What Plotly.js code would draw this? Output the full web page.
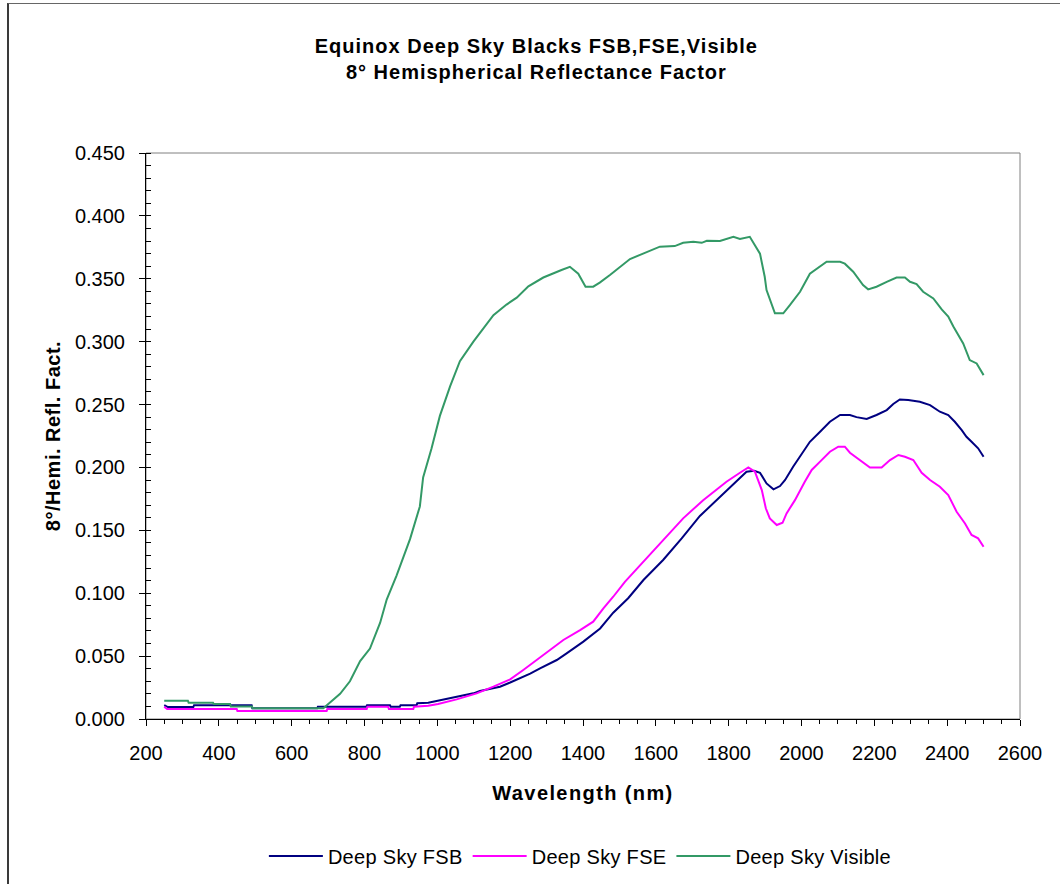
<!DOCTYPE html>
<html>
<head>
<meta charset="utf-8">
<script src="https://cdn.plot.ly/plotly-3.0.1.min.js"></script>
<style>
  html, body { margin: 0; padding: 0; background: #fff; overflow: hidden; }
  #wrap { position: relative; width: 1060px; height: 884px; }
  #chart { position: absolute; left: 0; top: 0; width: 1060px; height: 884px; }
  #frame { position: absolute; left: 7px; top: 3px; width: 1100px; height: 1000px;
           border-left: 2px solid #3a3a3a; border-top: 1px solid #666; pointer-events: none; }
  .gtitle { letter-spacing: 1px; }
  .xtitle { letter-spacing: 1.4px; }
  .ytitle { letter-spacing: 0.5px; }
  .legendtext { letter-spacing: 0.3px; }
</style>
</head>
<body>
<div id="wrap">
  <div id="chart"></div>
  <div id="frame"></div>
</div>
<script>
// ---- data (wavelength in nm, 8°/hemispherical reflectance factor) ----
const seriesNames = ["Deep Sky FSB", "Deep Sky FSE", "Deep Sky Visible"];

const wlFSB = [250,260,330,332,490,492,670,672,805,807,870,872,897,899,943,945,975,1002,1053,1099,1117,1154,1172,1200,1227,1255,1282,1328,1355,1401,1447,1483,1524,1566,1620,1671,1721,1758,1799,1826,1849,1870,1886,1904,1923,1941,1955,1977,2009,2023,2051,2078,2106,2133,2151,2179,2206,2234,2252,2270,2293,2325,2353,2380,2403,2421,2440,2453,2467,2485,2500];
const valFSB = [0.011,0.0095,0.0095,0.011,0.011,0.0085,0.0085,0.0098,0.0098,0.011,0.011,0.0098,0.0098,0.011,0.011,0.0125,0.013,0.0146,0.0177,0.0204,0.0222,0.0244,0.0257,0.029,0.0323,0.036,0.0403,0.0469,0.0522,0.0615,0.072,0.0845,0.096,0.1105,0.1264,0.1436,0.1614,0.1715,0.1826,0.190,0.1966,0.1974,0.1958,0.1873,0.1826,0.1852,0.190,0.2006,0.2138,0.2204,0.2284,0.2363,0.2417,0.2417,0.240,0.2385,0.2417,0.2456,0.2504,0.254,0.2536,0.2522,0.2496,0.2443,0.2417,0.2363,0.2297,0.2244,0.2204,0.2152,0.2085];

const wlFSE = [250,258,449,451,696,698,806,808,865,867,934,936,975,1002,1053,1108,1154,1200,1236,1291,1346,1392,1428,1456,1483,1515,1566,1620,1675,1730,1794,1831,1854,1872,1891,1902,1913,1932,1948,1959,1982,2009,2028,2051,2078,2101,2119,2133,2160,2188,2220,2243,2266,2284,2307,2330,2353,2380,2403,2426,2449,2467,2485,2500];
const valFSE = [0.0098,0.008,0.008,0.0064,0.0064,0.008,0.008,0.0098,0.0098,0.008,0.008,0.0098,0.0105,0.012,0.0156,0.0204,0.0257,0.0315,0.039,0.0509,0.0628,0.0707,0.0774,0.088,0.0972,0.1091,0.125,0.1423,0.1595,0.174,0.1886,0.1958,0.200,0.1966,0.182,0.1675,0.1595,0.1542,0.156,0.1635,0.174,0.1886,0.198,0.2046,0.2125,0.2165,0.2165,0.2117,0.2059,0.200,0.200,0.2059,0.2099,0.2085,0.2059,0.1958,0.190,0.1847,0.178,0.1648,0.1555,0.1463,0.1436,0.137];

const wlVis = [250,315,317,384,386,431,433,491,493,687,733,760,788,815,843,861,888,925,952,961,984,1007,1035,1062,1099,1122,1154,1190,1218,1250,1291,1341,1364,1387,1407,1428,1446,1474,1501,1529,1565,1611,1652,1675,1703,1726,1740,1776,1813,1831,1858,1886,1899,1904,1927,1950,1968,1996,2023,2051,2069,2106,2119,2142,2169,2183,2206,2234,2261,2284,2298,2316,2334,2362,2385,2403,2417,2444,2462,2481,2500];
const valVis = [0.0145,0.0145,0.013,0.013,0.012,0.012,0.010,0.010,0.0085,0.0085,0.020,0.030,0.046,0.056,0.0766,0.095,0.114,0.143,0.169,0.192,0.215,0.241,0.2645,0.2845,0.300,0.309,0.321,0.3295,0.335,0.344,0.351,0.357,0.3595,0.354,0.3437,0.3437,0.347,0.353,0.3595,0.3657,0.370,0.3755,0.376,0.3786,0.3795,0.3786,0.3802,0.380,0.3834,0.3816,0.3834,0.370,0.3516,0.341,0.3225,0.3225,0.329,0.3397,0.354,0.3595,0.3635,0.3635,0.362,0.3556,0.345,0.3416,0.3437,0.3476,0.351,0.351,0.3476,0.3458,0.3397,0.3344,0.3256,0.320,0.312,0.2986,0.2854,0.2827,0.2734];

const colors = ["#000080", "#FF00FF", "#339966"];

const FONT = "Liberation Sans, Arial, sans-serif";

const traces = [
  {x: wlFSB, y: valFSB, name: seriesNames[0]},
  {x: wlFSE, y: valFSE, name: seriesNames[1]},
  {x: wlVis, y: valVis, name: seriesNames[2]}
].map((t, i) => Object.assign(t, {
  type: "scatter", mode: "lines",
  line: {color: colors[i], width: 2},
  xaxis: "x", yaxis: "y", hoverinfo: "x+y+name"
}));

const layout = {
  width: 1060, height: 884,
  margin: {l: 146, r: 40, t: 153, b: 165, pad: 0, autoexpand: false},
  paper_bgcolor: "#fff", plot_bgcolor: "#fff",
  font: {family: FONT, size: 20, color: "#000"},
  title: {
    text: "Equinox Deep Sky Blacks FSB,FSE,Visible<br>8° Hemispherical Reflectance Factor",
    font: {family: FONT, size: 20, weight: "bold", color: "#000"},
    x: 0.506, xref: "container", xanchor: "center",
    y: 1 - 53/884, yref: "container", yanchor: "top"
  },
  showlegend: true,
  legend: {
    orientation: "h", x: 0.497, xanchor: "center", y: -0.242, yanchor: "middle",
    font: {family: FONT, size: 20, color: "#000"},
    itemwidth: 54, bgcolor: "rgba(0,0,0,0)", traceorder: "normal"
  },
  xaxis: {
    range: [200, 2600], tick0: 200, dtick: 200,
    ticks: "outside", ticklen: 6, tickwidth: 1, tickcolor: "#000",
    showline: true, linecolor: "#000", linewidth: 1,
    showgrid: false, zeroline: false, automargin: false,
    tickfont: {family: FONT, size: 20, color: "#000"},
    ticklabelstandoff: 10,
    minor: {dtick: 50, ticks: "outside", ticklen: 4, tickcolor: "#000", tickwidth: 1, showgrid: false},
    title: {text: "Wavelength (nm)", font: {family: FONT, size: 20, weight: "bold", color: "#000"}, standoff: 22}
  },
  yaxis: {
    range: [0, 0.45], tick0: 0, dtick: 0.05, tickformat: ".3f",
    ticks: "outside", ticklen: 6, tickwidth: 1, tickcolor: "#000",
    showline: true, linecolor: "#000", linewidth: 1,
    showgrid: false, zeroline: false, automargin: false,
    tickfont: {family: FONT, size: 20, color: "#000"},
    ticklabelstandoff: 10,
    minor: {dtick: 0.01, ticks: "inside", ticklen: 5, tickcolor: "#000", tickwidth: 1, showgrid: false},
    title: {text: "8°/Hemi. Refl. Fact.", font: {family: FONT, size: 20, weight: "bold", color: "#000"}, standoff: 8}
  },
  xaxis2: {
    overlaying: "x", anchor: "y", side: "bottom",
    range: [200, 2600], tick0: 200, dtick: 200,
    ticks: "inside", ticklen: 6, tickcolor: "#000",
    showticklabels: false, showline: false, showgrid: false, zeroline: false
  },
  yaxis2: {
    overlaying: "y", anchor: "x", side: "left",
    range: [0, 0.45], tick0: 0, dtick: 0.05,
    ticks: "inside", ticklen: 6, tickcolor: "#000",
    showticklabels: false, showline: false, showgrid: false, zeroline: false
  },
  shapes: [{
    type: "rect", xref: "paper", yref: "paper", x0: 0, x1: 1, y0: 0, y1: 1,
    line: {color: "#808080", width: 1}, layer: "below"
  }]
};

Plotly.newPlot("chart", traces, layout, {displayModeBar: false, staticPlot: true});
</script>
</body>
</html>
